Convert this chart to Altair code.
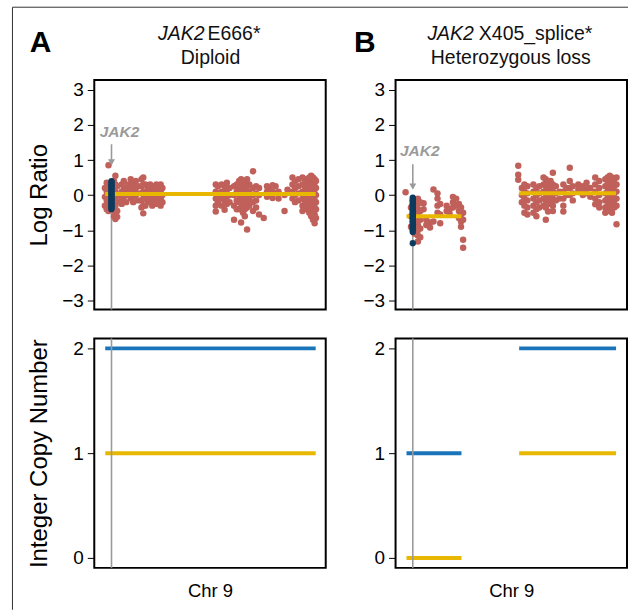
import altair as alt
import pandas as pd

# ---------------- data (chromosome 9 position in Mb, log ratio / copy number) ----------------
JAK2_MB = 5.0

# Panel A: red probe columns (position) and their log-ratio values
A_RED_MB = [0.6, 1.8, 3.0, 6.6, 7.6, 8.8, 11.8, 13.2, 14.8, 16.2, 17.8, 19.5, 21.2, 22.8,
            25.0, 26.2, 27.6, 29.3, 30.8, 32.2, 33.6, 35.0, 36.4, 37.8, 39.0,
            74.6, 76.0, 78.5, 80.5, 82.0, 83.8, 86.8, 88.6, 90.2, 91.5, 92.8, 94.0, 95.5,
            97.0, 99.5, 101.5, 103.5, 106.6, 108.8, 110.5, 112.5, 114.5, 116.5, 120.5,
            122.5, 125.8, 127.5, 129.8, 132.5, 134.0, 135.5, 137.0, 138.3, 139.5, 140.6, 141.5]
A_RED_LR = [
    [0.2, -0.05, -0.3], [0.35, 0.1, -0.15, -0.4], [0.85, 0.3, 0.05, -0.25, -0.45],
    [0.4, 0.2, 0.0, -0.2, -0.4, -0.6], [0.55, 0.3, 0.1, -0.1, -0.3, -0.5, -0.68],
    [0.25, 0.0, -0.2, -0.45, -0.62], [0.3, 0.1, -0.1, -0.25], [0.4, 0.15, -0.05],
    [0.2, 0.0, -0.2], [0.3, 0.1], [0.45, 0.25, 0.05, -0.1], [0.35, 0.15, -0.05, -0.2],
    [0.4, 0.2, 0.0], [0.25, 0.05, -0.15], [0.45, 0.25, 0.05, -0.15, -0.35],
    [0.5, 0.3, 0.1, -0.1, -0.3, -0.52], [0.3, 0.1, -0.1, -0.3], [0.2, 0.0, -0.2],
    [0.3, 0.1, -0.1], [0.25, 0.05, -0.15, -0.3], [0.2, 0.0], [0.3, 0.1, -0.1, -0.25],
    [0.25, 0.05, -0.15], [0.3, 0.1, -0.1, -0.3], [0.2, 0.0, -0.2],
    [0.3, 0.1, -0.1, -0.3, -0.47], [0.25, 0.0, -0.2], [0.3, 0.1, -0.1, -0.3],
    [0.25, 0.05, -0.15, -0.42], [0.35, 0.15, -0.05, -0.25], [0.2, 0.0, -0.2],
    [0.25, 0.0, -0.3, -0.7], [0.3, 0.1, -0.15, -0.4], [0.4, 0.2, 0.0, -0.2, -0.4],
    [0.45, 0.25, 0.05, -0.15, -0.35, -0.78], [0.35, 0.15, -0.05, -0.25, -0.5],
    [0.4, 0.2, 0.0, -0.2, -0.4, -0.6], [0.45, 0.25, 0.05, -0.15, -0.35, -0.98],
    [0.3, 0.1, -0.1, -0.3], [0.68, 0.2, 0.0, -0.2, -0.45], [0.25, 0.05, -0.15, -0.35],
    [0.2, 0.0, -0.55], [-0.65], [0.25, 0.1, -0.05], [0.2, 0.0], [0.28, 0.1, -0.08],
    [0.25, 0.05], [0.1, -0.1], [-0.45, 0.0], [0.15], [0.5, 0.3, 0.1, -0.1],
    [0.4, 0.2, 0.0, -0.2], [0.45, 0.25, 0.05, -0.15], [0.5, 0.3, 0.1, -0.1, -0.3, -0.45],
    [0.45, 0.25, 0.05, -0.15, -0.35], [0.4, 0.2, 0.0, -0.2, -0.4],
    [0.5, 0.3, 0.1, -0.1, -0.3, -0.5], [0.55, 0.35, 0.15, -0.05, -0.25, -0.45, -0.6],
    [0.5, 0.3, 0.1, -0.1, -0.3, -0.5, -0.7], [0.45, 0.25, 0.05, -0.15, -0.35, -0.55, -0.8],
    [0.4, 0.2, 0.0, -0.2, -0.4, -0.65]]
A_BLUE_MB = [5.0, 5.1, 4.9, 5.0, 5.1, 4.9, 5.0, 5.1, 4.9, 5.0, 5.1, 4.9, 5.0, 5.1, 4.9,
             5.0, 5.1, 4.9, 5.0, 5.1, 4.9]
A_BLUE_LR = [0.4, 0.36, 0.32, 0.28, 0.24, 0.2, 0.16, 0.12, 0.08, 0.04, 0.0, -0.04, -0.08,
             -0.12, -0.16, -0.2, -0.24, -0.28, -0.32, -0.36, -0.4]

# Panel B
B_RED_MB = [0.2, 3.8, 6.2, 8.4, 10.0, 12.2, 14.0, 16.5, 18.8, 21.5, 23.3, 27.6, 29.6, 31.8,
            34.0, 35.8, 37.2, 38.6,
            75.4, 77.8, 79.5, 81.5, 85.5, 87.5, 89.5, 92.3, 93.8, 95.3, 97.0, 98.5, 100.5,
            103.0, 105.5, 107.5, 109.8, 111.8, 115.5, 118.5, 121.0, 123.5, 126.8, 129.5,
            133.5, 135.0, 136.5, 138.0, 139.5, 141.0]
B_RED_LR = [
    [0.08], [-0.35, -0.6, -0.9], [-0.2, -0.5, -0.8, -1.1],
    [-0.1, -0.25, -0.4, -0.55, -0.7, -0.85, -1.0, -1.15, -1.32],
    [-0.2, -0.45, -0.7, -0.95, -1.2], [-0.23, -0.4], [-0.7, -0.85], [-0.78, -0.92],
    [0.16, -0.75], [0.05, -0.1, -0.3, -0.5], [-0.25, -0.55, -0.8], [-0.3, -0.45],
    [-0.4, -0.53], [-0.05, -0.2, -0.35], [-0.1, -0.3], [-0.25, -0.45, -0.65],
    [-0.35, -0.55, -0.75, -0.9], [-0.5, -0.7, -1.27, -1.5],
    [0.84, 0.58, 0.44], [0.2, 0.0, -0.2], [0.3, 0.1, -0.1, -0.3, -0.5],
    [0.25, 0.05, -0.15, -0.35, -0.55], [0.3, 0.1, -0.1, -0.3, -0.5],
    [0.2, 0.0, -0.2, -0.4, -0.6], [0.25, 0.05, -0.15, -0.35], [0.5, 0.3, 0.1, -0.1, -0.3],
    [0.45, 0.25, 0.05, -0.15, -0.35, -0.7], [0.35, 0.15, -0.05, -0.25, -0.47],
    [0.4, 0.2, 0.0, -0.2], [0.64, 0.3, 0.1, -0.1, -0.3, -0.45], [0.25, 0.05, -0.15],
    [0.1, -0.1], [0.3, 0.1, -0.1, -0.3, -0.47], [0.2, 0.0], [0.78, 0.4, 0.2, 0.0],
    [0.25, 0.05, -0.15], [0.3, 0.15], [0.25, 0.1, 0.0], [0.35, 0.2, 0.05], [0.2, -0.05],
    [0.5, 0.3, 0.1, -0.1, -0.26], [0.4, 0.2, 0.0, -0.2, -0.35],
    [0.45, 0.25, 0.05, -0.15, -0.35, -0.5], [0.5, 0.3, 0.1, -0.1, -0.3, -0.45],
    [0.55, 0.35, 0.15, -0.05, -0.25, -0.45], [0.5, 0.3, 0.1, -0.1, -0.3, -0.5],
    [0.45, 0.25, 0.05, -0.15, -0.35], [0.5, 0.3, 0.1, -0.1, -0.3, -0.83]]
B_BLUE_MB = [5.0, 5.1, 4.9, 5.0, 5.1, 4.9, 5.0, 5.1, 4.9, 5.0, 5.1, 4.9, 5.0, 5.1, 4.9,
             5.0, 5.1, 4.9, 5.0, 5.1, 4.9, 5.0, 5.1, 4.9, 5.0, 5.0]
B_BLUE_LR = [-0.07, -0.11, -0.15, -0.19, -0.23, -0.27, -0.31, -0.35, -0.39, -0.43, -0.47,
             -0.51, -0.55, -0.59, -0.63, -0.67, -0.71, -0.75, -0.79, -0.83, -0.87, -0.91,
             -0.95, -0.99, -1.05, -1.37]

# segments (log ratio and copy number)
A_SEG_START = [0.8]
A_SEG_END = [141.3]
A_SEG_LR = [0.03]
A_CN_TOTAL = [2]
A_CN_MINOR = [1]
B_SEG_START = [0.8, 76.0]
B_SEG_END = [37.5, 140.7]
B_SEG_LR = [-0.6, 0.05]
B_CN_TOTAL = [1, 2]
B_CN_MINOR = [0, 1]

# annotation values
A_LABEL_LR, B_LABEL_LR = 1.8, 1.27
A_ARROW = [1.45, 0.88]
B_ARROW = [0.88, 0.19]
A_GREY_TOP, B_GREY_TOP = 0.35, -0.1

LR_TICKS = [-3, -2, -1, 0, 1, 2, 3]
CN_TICKS = [0, 1, 2]

# ---------------- styling ----------------
RED = "#C0605A"
NAVY = "#0D3B5E"
GOLD = "#E8B800"
BLUE = "#1A74BA"
GREY = "#9A9A9A"
X_DOMAIN = [-6.5, 148.0]
LR_DOMAIN = [-3.26, 3.28]
CN_DOMAIN = [-0.095, 2.095]
W, H = 232, 230


def flat(mbs, lrs):
    rows = []
    for mb, vals in zip(mbs, lrs):
        for v in vals:
            rows.append({"mb": mb, "lr": v})
    return pd.DataFrame(rows)


def one(**kw):
    return pd.DataFrame([kw])


def yaxis(values):
    return alt.Axis(values=values, tickSize=7, labelPadding=4, minExtent=34,
                    maxExtent=34, titlePadding=9)


def top_panel(red_mb, red_lr, blue_mb, blue_lr, s0, s1, slr, label_lr, label_dx,
              arrow, grey_top, ytitle):
    X = alt.X("mb:Q", scale=alt.Scale(domain=X_DOMAIN, nice=False, zero=False), axis=None)
    Y = alt.Y("lr:Q", scale=alt.Scale(domain=LR_DOMAIN, nice=False, zero=False),
              axis=yaxis(LR_TICKS), title=ytitle)
    grey = alt.Chart(one(mb=JAK2_MB, lr=LR_DOMAIN[0], lr2=grey_top)).mark_rule(
        color=GREY, strokeWidth=1.6).encode(x=X, y=Y, y2="lr2:Q")
    red = alt.Chart(flat(red_mb, red_lr)).mark_circle(
        size=42, color=RED, opacity=1).encode(x=X, y=Y)
    seg = alt.Chart(pd.DataFrame({"mb": s0, "mb2": s1, "lr": slr})).mark_rule(
        color=GOLD, strokeWidth=4).encode(x=X, x2="mb2:Q", y=Y)
    blue = alt.Chart(pd.DataFrame({"mb": blue_mb, "lr": blue_lr})).mark_circle(
        size=40, color=NAVY, opacity=1).encode(x=X, y=Y)
    shaft = alt.Chart(one(mb=JAK2_MB, lr=arrow[0], lr2=arrow[1])).mark_rule(
        color=GREY, strokeWidth=1.6).encode(x=X, y=Y, y2="lr2:Q")
    head = alt.Chart(one(mb=JAK2_MB, lr=arrow[1])).mark_point(
        shape="triangle-down", filled=True, size=50, color=GREY, opacity=1,
        yOffset=-2).encode(x=X, y=Y)
    lab = alt.Chart(one(mb=JAK2_MB, lr=label_lr, t="JAK2")).mark_text(
        fontSize=15.5, fontWeight="bold", fontStyle="italic", color=GREY,
        dx=label_dx, baseline="middle").encode(x=X, y=Y, text="t:N")
    return [grey, red, seg, blue, shaft, head, lab]


def header(gene_right, rest_left, rest, sub, sub_center, letter, letter_x):
    layers = []
    layers.append(alt.Chart(one(t="JAK2")).mark_text(
        fontSize=19.5, fontStyle="italic", align="right", baseline="alphabetic",
        color="#111").encode(x=alt.value(gene_right), y=alt.value(-40), text="t:N"))
    layers.append(alt.Chart(one(t=rest)).mark_text(
        fontSize=19.5, align="left", baseline="alphabetic", color="#111").encode(
        x=alt.value(rest_left), y=alt.value(-40), text="t:N"))
    layers.append(alt.Chart(one(t=sub)).mark_text(
        fontSize=19.5, align="center", baseline="alphabetic", color="#111").encode(
        x=alt.value(sub_center), y=alt.value(-16.5), text="t:N"))
    layers.append(alt.Chart(one(t=letter)).mark_text(
        fontSize=30, fontWeight="bold", align="left", baseline="alphabetic",
        color="#000").encode(x=alt.value(letter_x), y=alt.value(-28), text="t:N"))
    return layers


def bottom_panel(s0, s1, total, minor, ytitle):
    xs = alt.Scale(domain=X_DOMAIN, nice=False, zero=False)
    ys = alt.Scale(domain=CN_DOMAIN, nice=False, zero=False)
    X = alt.X("mb:Q", scale=xs,
              axis=alt.Axis(labels=False, ticks=False, domain=False, titlePadding=14,
                            titleFontSize=18.5),
              title="Chr 9")
    segs = pd.DataFrame({"mb": s0, "mb2": s1, "total": total, "minor": minor})
    tot = alt.Chart(segs).mark_rule(color=BLUE, strokeWidth=4).encode(
        x=X, x2="mb2:Q", y=alt.Y("total:Q", scale=ys, axis=yaxis(CN_TICKS), title=ytitle))
    mnr = alt.Chart(segs).mark_rule(color=GOLD, strokeWidth=4).encode(
        x=X, x2="mb2:Q", y=alt.Y("minor:Q", scale=ys, axis=yaxis(CN_TICKS), title=ytitle))
    grey = alt.Chart(one(mb=JAK2_MB, cn=CN_DOMAIN[0], cn2=CN_DOMAIN[1])).mark_rule(
        color=GREY, strokeWidth=1.6).encode(
        x=X, y=alt.Y("cn:Q", scale=ys, axis=yaxis(CN_TICKS), title=ytitle), y2="cn2:Q")
    return alt.layer(tot, mnr, grey).properties(width=W, height=H)


frame = [
    alt.Chart(one(t=1)).mark_rule(color="#333", strokeWidth=1).encode(
        x=alt.value(-82), x2=alt.value(535), y=alt.value(-73)),
    alt.Chart(one(t=1)).mark_rule(color="#333", strokeWidth=1).encode(
        x=alt.value(-82), y=alt.value(-73), y2=alt.value(531)),
]

topA = alt.layer(
    *top_panel(A_RED_MB, A_RED_LR, A_BLUE_MB, A_BLUE_LR, A_SEG_START, A_SEG_END, A_SEG_LR,
               A_LABEL_LR, 8, A_ARROW, A_GREY_TOP, "Log Ratio"),
    *header(110.5, 113.5, "E666*", "Diploid", 116.5, "A", -64.7),
    *frame,
).properties(width=W, height=H)

topB = alt.layer(
    *top_panel(B_RED_MB, B_RED_LR, B_BLUE_MB, B_BLUE_LR, B_SEG_START, B_SEG_END, B_SEG_LR,
               B_LABEL_LR, 7, B_ARROW, B_GREY_TOP, None),
    *header(78.5, 83.5, "X405_splice*", "Heterozygous loss", 115.5, "B", -41.7),
).properties(width=W, height=H)

botA = bottom_panel(A_SEG_START, A_SEG_END, A_CN_TOTAL, A_CN_MINOR, "Integer Copy Number")
botB = bottom_panel(B_SEG_START, B_SEG_END, B_CN_TOTAL, B_CN_MINOR, None)

chart = alt.concat(
    topA, topB, botA, botB, columns=2, bounds="flush",
    spacing={"row": 29, "column": 70},
).properties(
    padding={"left": 10.5, "top": 4.5, "right": 0, "bottom": 0}
).configure(
    font="Liberation Sans"
).configure_view(
    stroke="#000", strokeWidth=2
).configure_axis(
    grid=False, domain=False, labelColor="#000", titleColor="#000", tickColor="#000",
    labelFontSize=19, titleFontSize=24, titleFontWeight="normal", labelFont="Liberation Sans",
    titleFont="Liberation Sans"
)

chart.save("out.html", embed_options={"renderer": "svg", "actions": False})
